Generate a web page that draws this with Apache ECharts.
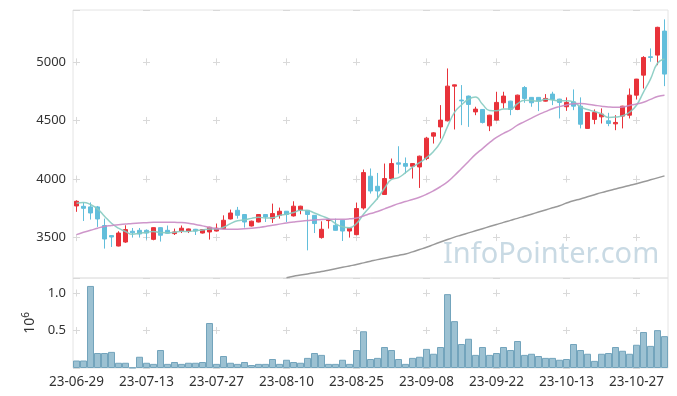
<!DOCTYPE html>
<html>
<head>
<meta charset="utf-8">
<script src="https://cdn.jsdelivr.net/npm/echarts@6/dist/echarts.min.js"></script>
<style>
html,body{margin:0;padding:0;background:#fff;}
#c{width:677px;height:396px;}
</style>
</head>
<body>
<div id="c"></div>
<script>
const dates = ["23-06-29","23-06-30","23-07-03","23-07-04","23-07-05","23-07-06","23-07-07","23-07-10","23-07-11","23-07-12",
"23-07-13","23-07-14","23-07-17","23-07-18","23-07-19","23-07-20","23-07-21","23-07-24","23-07-25","23-07-26",
"23-07-27","23-07-28","23-07-31","23-08-01","23-08-02","23-08-03","23-08-04","23-08-07","23-08-08","23-08-09",
"23-08-10","23-08-11","23-08-14","23-08-16","23-08-17","23-08-18","23-08-21","23-08-22","23-08-23","23-08-24",
"23-08-25","23-08-28","23-08-29","23-08-30","23-08-31","23-09-01","23-09-04","23-09-05","23-09-06","23-09-07",
"23-09-08","23-09-11","23-09-12","23-09-13","23-09-14","23-09-15","23-09-18","23-09-19","23-09-20","23-09-21",
"23-09-22","23-09-25","23-09-26","23-09-27","23-10-04","23-10-05","23-10-06","23-10-10","23-10-11","23-10-12",
"23-10-13","23-10-16","23-10-17","23-10-18","23-10-19","23-10-20","23-10-23","23-10-24","23-10-25","23-10-26",
"23-10-27","23-10-30","23-10-31","23-11-01","23-11-02"];

const opens = [3770,3767,3762,3762,3603,3517,3428,3462,3554,3562,
3562,3485,3585,3562,3534,3556,3556,3571,3539,3548,
3556,3577,3659,3733,3697,3599,3633,3697,3662,3690,
3725,3685,3733,3733,3690,3500,3645,3605,3648,3556,
3525,3753,4024,3938,3868,4004,4138,4132,4109,4103,
4175,4366,4445,4497,4793,4674,4708,4573,4594,4454,
4503,4651,4665,4594,4781,4697,4697,4665,4725,4682,
4617,4659,4622,4432,4509,4531,4497,4471,4537,4545,
4716,4887,5044,5058,5263];

const closes = [3810,3750,3710,3659,3488,3505,3539,3568,3541,3531,
3539,3585,3520,3537,3548,3580,3574,3556,3568,3588,
3580,3648,3710,3690,3633,3640,3697,3676,3705,3725,
3697,3768,3768,3697,3620,3571,3652,3562,3556,3580,
3748,4055,3898,3898,4004,4132,4127,4109,4132,4195,
4349,4394,4503,4793,4804,4667,4637,4597,4483,4545,
4654,4708,4594,4716,4688,4651,4668,4688,4679,4654,
4654,4622,4468,4568,4568,4554,4474,4483,4622,4716,
4853,5038,5038,5295,4896];

const lows = [3720,3642,3654,3591,3406,3420,3425,3455,3500,3500,
3483,3477,3466,3535,3522,3539,3539,3522,3535,3483,
3552,3575,3655,3662,3585,3595,3630,3633,3625,3662,
3633,3680,3699,3391,3539,3491,3577,3560,3471,3500,
3520,3739,3876,3825,3865,4000,4047,4047,4004,3924,
4161,4303,4346,4492,4423,4460,4445,4545,4474,4409,
4500,4602,4545,4588,4651,4617,4580,4662,4631,4517,
4582,4588,4432,4430,4468,4474,4451,4417,4432,4517,
4679,4773,5001,4972,4793];

const highs = [3818,3802,3800,3770,3662,3522,3554,3605,3582,3582,
3570,3588,3590,3603,3577,3603,3577,3574,3570,3592,
3620,3690,3739,3762,3700,3645,3700,3700,3790,3756,
3727,3810,3772,3735,3692,3639,3662,3662,3650,3582,
3799,4081,4090,4052,4132,4175,4280,4184,4135,4200,
4360,4400,4631,4944,4806,4802,4712,4617,4597,4548,
4745,4745,4668,4720,4793,4700,4700,4725,4745,4685,
4697,4765,4697,4570,4594,4603,4565,4545,4625,4773,
4855,5049,5115,5300,5363];

const ma5 = [3793,3800,3782,3745,3683,3622,3580,3552,3528,3537,
3544,3553,3543,3542,3546,3554,3552,3559,3565,3573,
3573,3588,3619,3643,3652,3664,3674,3667,3670,3689,
3700,3714,3733,3731,3710,3685,3662,3620,3592,3584,
3620,3700,3767,3836,3921,3997,4012,4054,4101,4139,
4182,4236,4315,4447,4569,4632,4681,4700,4638,4586,
4583,4597,4597,4643,4672,4671,4663,4682,4675,4668,
4669,4659,4615,4593,4576,4556,4526,4529,4540,4570,
4630,4742,4853,4988,5024];

const ma20 = [3525,3545,3562,3580,3595,3603,3610,3615,3620,3624,
3627,3630,3632,3632,3630,3628,3622,3612,3600,3588,
3578,3572,3571,3572,3575,3580,3587,3595,3605,3615,
3625,3633,3640,3645,3650,3654,3656,3657,3657,3660,
3668,3685,3705,3722,3745,3768,3790,3808,3825,3845,
3870,3900,3935,3975,4030,4090,4150,4210,4260,4310,
4355,4390,4420,4460,4490,4520,4550,4575,4600,4618,
4632,4642,4645,4638,4630,4622,4615,4612,4615,4628,
4640,4655,4680,4705,4716];

const ma60 = [null,null,null,null,null,null,null,null,null,null,
null,null,null,null,null,null,null,null,null,null,
null,null,null,null,null,null,null,null,null,null,
3158,3170,3180,3190,3200,3210,3222,3234,3246,3258,
3270,3284,3298,3312,3324,3336,3348,3360,3378,3398,
3418,3440,3462,3484,3504,3522,3540,3558,3576,3594,
3612,3630,3647,3664,3682,3700,3718,3736,3754,3772,
3795,3815,3830,3848,3866,3884,3900,3915,3930,3945,
3960,3976,3993,4010,4027];

const volume = [0.10,0.10,1.094,0.20,0.20,0.215,0.07,0.07,0.005,0.15,
0.07,0.055,0.24,0.055,0.08,0.055,0.07,0.07,0.08,0.60,
0.055,0.16,0.07,0.055,0.08,0.04,0.055,0.055,0.12,0.055,
0.11,0.08,0.07,0.135,0.20,0.175,0.055,0.055,0.11,0.055,
0.24,0.49,0.12,0.135,0.28,0.24,0.12,0.055,0.135,0.15,
0.255,0.19,0.28,0.985,0.625,0.32,0.39,0.175,0.28,0.175,
0.20,0.28,0.24,0.36,0.175,0.19,0.16,0.135,0.135,0.11,
0.12,0.32,0.24,0.19,0.095,0.19,0.20,0.28,0.23,0.19,
0.31,0.48,0.295,0.505,0.425];

const priceMin = 3155, priceMax = 5443, priceStep = 500;
const volMin = 0, volMax = 1.2, volStep = 0.5;

const G = {left:73, width:595, top:10, height:268, vTop:278, vHeight:90};
const font = '"Noto Sans", "DejaVu Sans", sans-serif';
const gridColor = '#d9d9d9';
const dash = 7;
// cross-style grid marks
const colPeriod = G.width / dates.length * 10;
const pPeriod = priceStep / (priceMax - priceMin) * G.height;
const pFirst = (priceMax - Math.floor(priceMax/priceStep)*priceStep) / (priceMax - priceMin) * G.height - dash/2;
const pOffset = pPeriod - pFirst;
const vPeriod = volStep / (volMax - volMin) * G.vHeight;
const vFirst = (volMax - Math.floor(volMax/volStep)*volStep) / (volMax - volMin) * G.vHeight - dash/2;
const vOffset = vPeriod - vFirst;

const chart = echarts.init(document.getElementById('c'), null, {renderer:'canvas'});
chart.setOption({
  animation:false,
  backgroundColor:'#fff',
  textStyle:{fontFamily:font},
  grid:[
    {left:G.left, width:G.width, top:G.top, height:G.height, show:true, borderColor:'#e4e4e4', borderWidth:1},
    {left:G.left, width:G.width, top:G.vTop, height:G.vHeight, show:true, borderColor:'#e4e4e4', borderWidth:1}
  ],
  xAxis:[
    {type:'category', gridIndex:0, data:dates, boundaryGap:true,
     axisLine:{show:false}, axisTick:{show:false}, axisLabel:{show:false},
     splitLine:{show:true, interval:9, alignWithLabel:true,
       lineStyle:{color:gridColor, width:1, type:[dash, pPeriod-dash], dashOffset:pOffset}}},
    {type:'category', gridIndex:1, data:dates, boundaryGap:true,
     axisLine:{show:false}, axisTick:{show:false, interval:9, alignWithLabel:true},
     axisLabel:{interval:9, fontSize:13.5, color:'#333', margin:7, fontFamily:font},
     splitLine:{show:true, interval:9, alignWithLabel:true,
       lineStyle:{color:gridColor, width:1, type:[dash, vPeriod-dash], dashOffset:vOffset}}}
  ],
  yAxis:[
    {type:'value', gridIndex:0, min:priceMin, max:priceMax, scale:true,
     axisLine:{show:false}, axisTick:{show:false},
     axisLabel:{fontSize:13, color:'#333', margin:7, showMinLabel:false, showMaxLabel:false, fontFamily:font,
       formatter:v=>String(v)},
     splitLine:{show:true, lineStyle:{color:gridColor, width:1, type:[dash, colPeriod-dash], dashOffset:0}}},
    {type:'value', gridIndex:1, min:volMin, max:volMax, interval:volStep,
     axisLine:{show:false}, axisTick:{show:false},
     axisLabel:{fontSize:13, color:'#333', margin:7, showMinLabel:false, showMaxLabel:false, fontFamily:font,
       formatter:v=>v.toFixed(1)},
     name:'10{s|6}', nameLocation:'middle', nameRotate:90, nameGap:32,
     nameTextStyle:{fontSize:14, color:'#333', fontFamily:font, rich:{s:{fontSize:10, verticalAlign:'top', color:'#333', padding:[0,0,7,0]}}},
     splitLine:{show:true, lineStyle:{color:gridColor, width:1, type:[dash, colPeriod-dash], dashOffset:0}}}
  ],
  graphic:[
    {type:'text', left:443, top:240, z:0, silent:true,
     style:{text:'InfoPointer.com', font:'29px "Noto Sans", sans-serif', fill:'#c9dae4'}}
  ],
  series:[
    {type:'candlestick', xAxisIndex:0, yAxisIndex:0, barWidth:5,
     data:dates.map((d,i)=>[opens[i], closes[i], lows[i], highs[i]]),
     itemStyle:{color:'#e8323a', color0:'#62bedb', borderColor:'#e8323a', borderColor0:'#62bedb', borderWidth:1}},
    {type:'line', name:'MA5', xAxisIndex:0, yAxisIndex:0, data:ma5, smooth:true, showSymbol:false,
     lineStyle:{color:'#86cbc1', width:1.5, opacity:0.9}, z:3},
    {type:'line', name:'MA20', xAxisIndex:0, yAxisIndex:0, data:ma20, smooth:true, showSymbol:false,
     lineStyle:{color:'#c98bc4', width:1.5, opacity:0.9}, z:3},
    {type:'line', name:'MA60', xAxisIndex:0, yAxisIndex:0, data:ma60, smooth:true, showSymbol:false,
     lineStyle:{color:'#999999', width:1.5}, z:3},
    {type:'bar', xAxisIndex:1, yAxisIndex:1, data:volume, barCategoryGap:'0%',
     itemStyle:{color:'#9cc1d2', borderColor:'#73a4bc', borderWidth:1}}
  ]
});
</script>
</body>
</html>
